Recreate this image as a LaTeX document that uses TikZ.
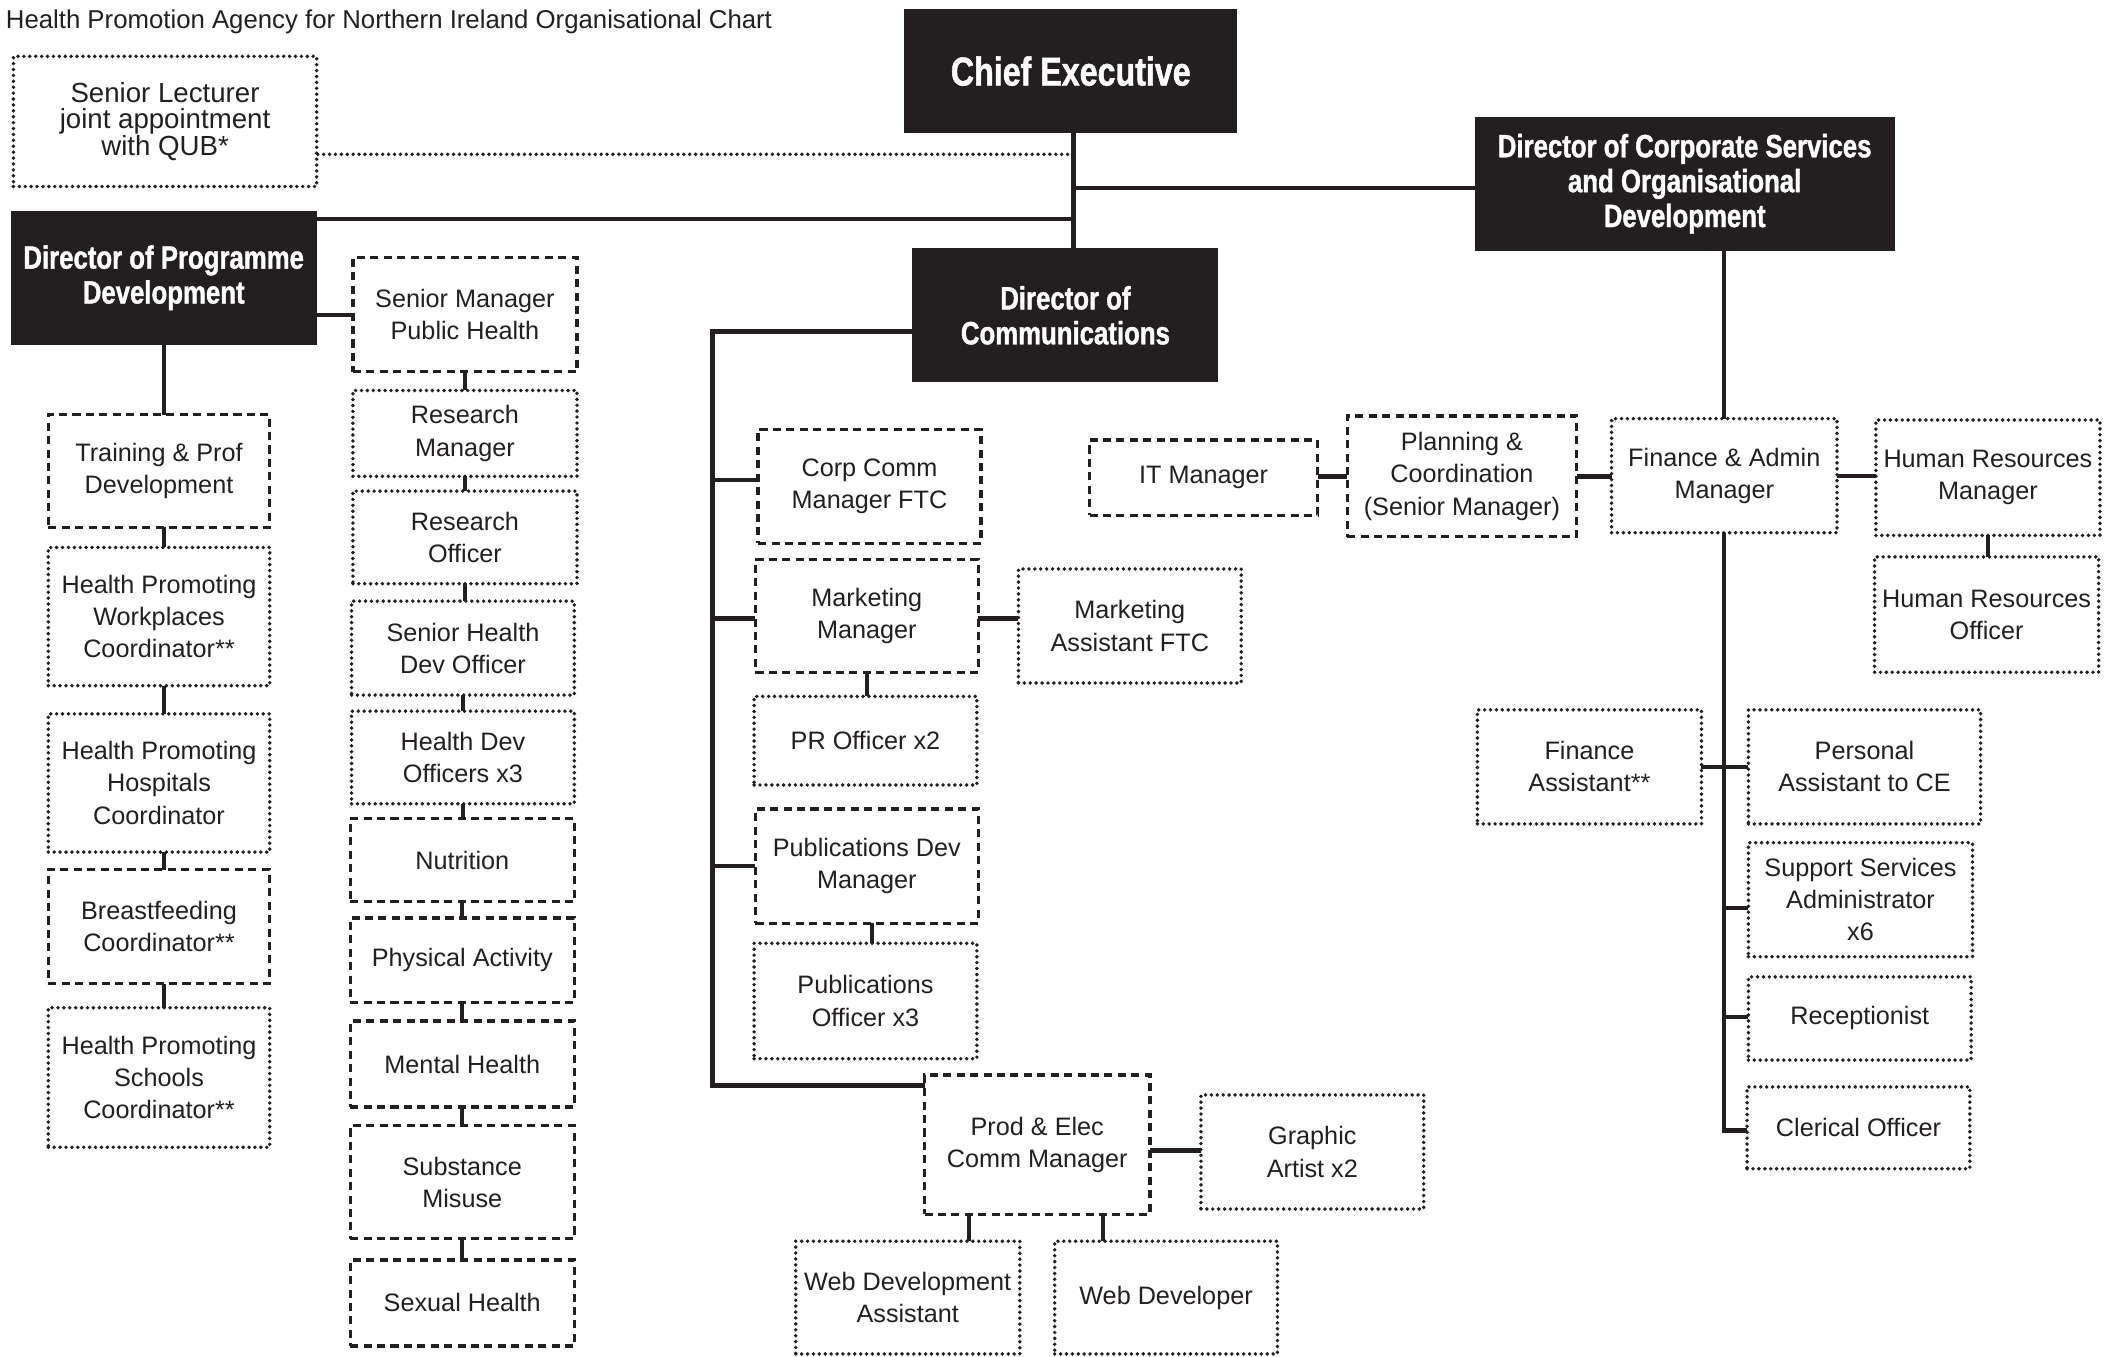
\documentclass[tikz,border=0pt]{standalone}
\usepackage{fontspec}
\setmainfont{Liberation Sans}
\newfontfamily\headfam[FakeStretch=0.8,FakeBold=1.2]{Liberation Sans}
\usetikzlibrary{backgrounds,calc}
\definecolor{boxblack}{HTML}{231F20}
\newcommand\myBody{\fontsize{9.4}{12}\selectfont}
\begin{document}
\begin{tikzpicture}[x=0.5pt,y=-0.5pt,
  pos/.style args={#1,#2,#3,#4}{minimum width={(#3-#1)*0.5pt}, minimum height={(#4-#2)*0.5pt},
     at={({(#1+#3)/2},{(#2+#4)/2})}, anchor=center},
  base/.style={inner sep=0pt, outer sep=0pt, align=center, font=\myBody, fill=white, text=boxblack},
  dashbox/.style={base, draw=boxblack, line width=1.25pt, dash pattern=on 3pt off 2pt},
  dotbox/.style={base, draw=boxblack, line width=1.45pt, line cap=round, dash pattern=on 0pt off 2.2pt},
  darkbox/.style={inner sep=0pt, outer sep=0pt, align=center, fill=boxblack, text=white, font=\headfam\bfseries\fontsize{12}{13}\selectfont},
  conn/.style={line width=1.6pt, draw=boxblack},
  dotline/.style={line width=1.45pt, line cap=round, dash pattern=on 0pt off 2.2pt, draw=boxblack}]
\useasboundingbox (0,0) rectangle (1568,1011);

\node[anchor=base west, inner sep=0pt, text=boxblack, font=\fontsize{9.6}{12}\selectfont] (title) at (4,21)
  {Health Promotion Agency for Northern Ireland Organisational Chart};

% top level
\node[dotbox, font=\fontsize{10.3}{10}\selectfont, pos={10,42,236,139}] (sl) {Senior Lecturer\\joint appointment\\with QUB*};
\node[darkbox, font=\headfam\bfseries\fontsize{15}{16}\selectfont, pos={674,7,922,99}] (ce) {Chief Executive};
\node[darkbox, pos={8,157,236,257}] (dpd) {Director of Programme\\Development};
\node[darkbox, pos={1099,87,1412,187}] (dcorp) {Director of Corporate Services\\and Organisational\\Development};
\node[darkbox, pos={680,185,908,285}] (dcomm) {Director of\\Communications};

% programme development, left column
\node[dashbox, pos={36,309,201,393}] (tpd) {Training \& Prof\\Development};
\node[dotbox, pos={36,408,201,511}] (hpw) {Health Promoting\\Workplaces\\Coordinator**};
\node[dotbox, pos={36,532,201,635}] (hph) {Health Promoting\\Hospitals\\Coordinator};
\node[dashbox, pos={36,648,201,733}] (bfc) {Breastfeeding\\Coordinator**};
\node[dotbox, pos={36,751,201,855}] (hps) {Health Promoting\\Schools\\Coordinator**};

% programme development, second column
\node[dashbox, pos={263,192,430,277}] (smph) {Senior Manager\\Public Health};
\node[dotbox, pos={263,291,430,355}] (rm) {Research\\Manager};
\node[dotbox, pos={263,366,430,435}] (ro) {Research\\Officer};
\node[dotbox, pos={262,448,428,518}] (shdo) {Senior Health\\Dev Officer};
\node[dotbox, pos={262,530,428,599}] (hdo) {Health Dev\\Officers x3};
\node[dashbox, pos={261,610,428,672}] (nut) {Nutrition};
\node[dashbox, pos={261,684,428,747}] (pact) {Physical Activity};
\node[dashbox, pos={261,761,428,825}] (mh) {Mental Health};
\node[dashbox, pos={261,839,428,923}] (sm) {Substance\\Misuse};
\node[dashbox, pos={261,939,428,1003}] (sh) {Sexual Health};

% communications
\node[dashbox, pos={565,320,731,405}] (ccm) {Corp Comm\\Manager FTC};
\node[dashbox, pos={563,417,729,501}] (mm) {Marketing\\Manager};
\node[dotbox, pos={759,424,925,509}] (maf) {Marketing\\Assistant FTC};
\node[dotbox, pos={562,519,728,585}] (pr) {PR Officer x2};
\node[dashbox, pos={563,603,729,688}] (pdm) {Publications Dev\\Manager};
\node[dotbox, pos={562,703,728,789}] (po) {Publications\\Officer x3};
\node[dashbox, pos={689,801,857,905}] (pecm) {Prod \& Elec\\Comm Manager};
\node[dotbox, pos={895,816,1061,901}] (ga) {Graphic\\Artist x2};
\node[dotbox, pos={593,925,760,1009}] (wda) {Web Development\\Assistant};
\node[dotbox, pos={786,925,952,1009}] (wd) {Web Developer};

% corporate services
\node[dashbox, pos={812,328,982,384}] (itm) {IT Manager};
\node[dashbox, pos={1004,310,1175,400}] (pc) {Planning \&\\Coordination\\(Senior Manager)};
\node[dotbox, pos={1201,312,1369,397}] (fam) {Finance \& Admin\\Manager};
\node[dotbox, pos={1398,313,1565,399}] (hrm) {Human Resources\\Manager};
\node[dotbox, pos={1397,415,1564,501}] (hro) {Human Resources\\Officer};
\node[dotbox, pos={1101,529,1268,614}] (fa) {Finance\\Assistant**};
\node[dotbox, pos={1303,529,1476,614}] (pace) {Personal\\Assistant to CE};
\node[dotbox, pos={1303,628,1470,713}] (ssa) {Support Services\\Administrator\\x6};
\node[dotbox, pos={1303,728,1469,790}] (rec) {Receptionist};
\node[dotbox, pos={1302,810,1468,871}] (co) {Clerical Officer};

\coordinate (j0) at (800,115);
\coordinate (j1) at (800,163);
\coordinate (j2) at (800,140);
\coordinate (cs) at (531,247);
\coordinate (cb) at (531,809);

\begin{pgfonlayer}{background}
% chief executive
\draw[conn] (ce.south -| j0) -- (dcomm.north -| j0);
\draw[dotline] (j0) -- (j0 -| sl.east);
\draw[conn] (j1) -- (j1 -| dpd.east);
\draw[conn] (j2) -- (j2 -| dcorp.west);
% programme development
\draw[conn] (dpd.south) -- (dpd.south |- tpd.north);
\draw[conn] (tpd.south -| dpd.south) -- (hpw.north -| dpd.south);
\draw[conn] (hpw.south -| dpd.south) -- (hph.north -| dpd.south);
\draw[conn] (hph.south -| dpd.south) -- (bfc.north -| dpd.south);
\draw[conn] (bfc.south -| dpd.south) -- (hps.north -| dpd.south);
\draw[conn] (smph.west) -- (smph.west -| dpd.east);
\draw[conn] (smph.south) -- (smph.south |- rm.north);
\draw[conn] (rm.south) -- (rm.south |- ro.north);
\draw[conn] (ro.south) -- (ro.south |- shdo.north);
\draw[conn] (shdo.south) -- (shdo.south |- hdo.north);
\draw[conn] (hdo.south) -- (hdo.south |- nut.north);
\draw[conn] (nut.south) -- (nut.south |- pact.north);
\draw[conn] (pact.south) -- (pact.south |- mh.north);
\draw[conn] (mh.south) -- (mh.south |- sm.north);
\draw[conn] (sm.south) -- (sm.south |- sh.north);
% communications
\draw[conn] (cs -| dcomm.west) -- (cs) -- (cb) -- (cb -| pecm.west);
\draw[conn] ($(ccm.west)+(0,-5)$) coordinate (b1) -- (b1 -| cs);
\draw[conn] ($(mm.west)+(0,2)$) coordinate (b2) -- (b2 -| cs);
\draw[conn] (pdm.west) -- (pdm.west -| cs);
\draw[conn] ($(mm.east)+(0,2)$) coordinate (b3) -- (b3 -| maf.west);
\draw[conn] (mm.south) -- (mm.south |- pr.north);
\draw[conn] ($(pdm.south)+(4,0)$) coordinate (t0) -- (t0 |- po.north);
\draw[conn] ($(ga.west)+(0,-1)$) coordinate (b4) -- (b4 -| pecm.east);
\draw[conn] ($(pecm.south)+(-51,0)$) coordinate (t1) -- (t1 |- wda.north);
\draw[conn] ($(pecm.south)+(49,0)$) coordinate (t2) -- (t2 |- wd.north);
% corporate services
\draw[conn] (fam.north) -- (fam.north |- dcorp.south);
\draw[conn] (pc.west) -- (pc.west -| itm.east);
\draw[conn] (pc.east) -- (pc.east -| fam.west);
\draw[conn] (fam.east) -- (fam.east -| hrm.west);
\draw[conn] (hrm.south) -- (hrm.south |- hro.north);
\draw[conn] (fam.south) |- ($(co.west)+(0,2)$);
\draw[conn] (fa.east) -- (pace.west);
\draw[conn] ($(ssa.west)+(0,6)$) coordinate (b5) -- (b5 -| fam.south);
\draw[conn] ($(rec.west)+(0,-1)$) coordinate (b6) -- (b6 -| fam.south);
\end{pgfonlayer}
\end{tikzpicture}
\end{document}
